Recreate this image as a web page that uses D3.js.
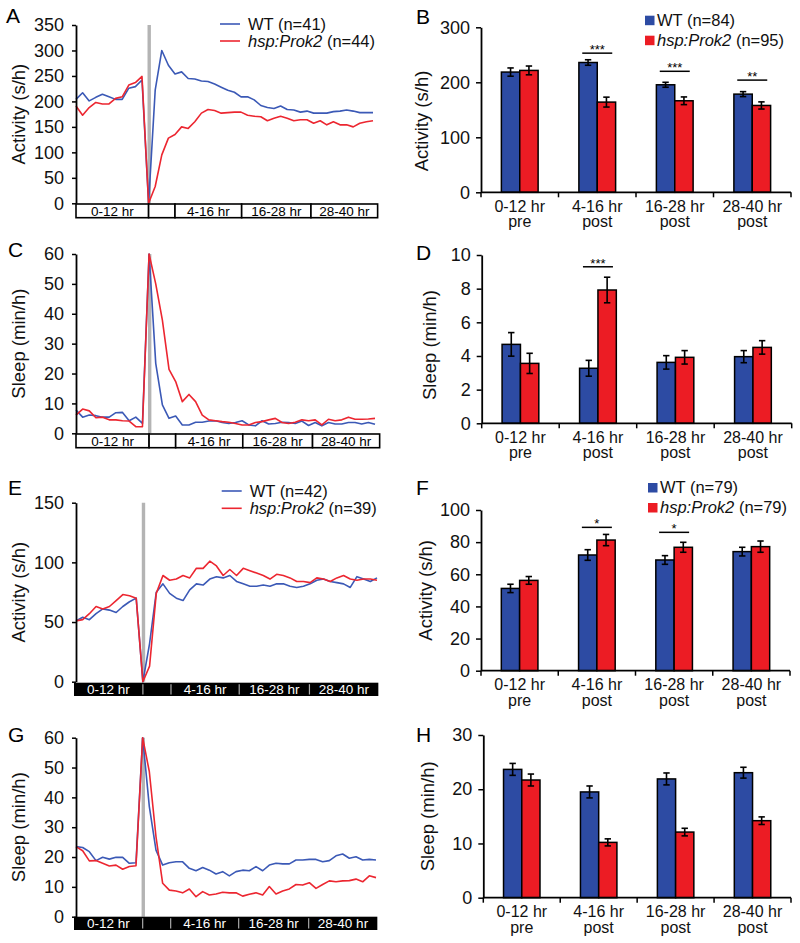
<!DOCTYPE html>
<html><head><meta charset="utf-8">
<script src="https://cdn.jsdelivr.net/npm/d3@7"></script>
<style>
body{margin:0;background:#fff}
svg{display:block;font-family:"Liberation Sans",Arial,Helvetica,sans-serif}
</style></head><body>
<svg id="c" width="800" height="943"></svg>
<script>
// ---------------- DATA ----------------
const seriesNames = ["WT", "hsp:Prok2"];
const boxLabels = ["0-12 hr", "", "4-16 hr", "16-28 hr", "28-40 hr"];
const barCategories = [["0-12 hr","pre"],["4-16 hr","post"],["16-28 hr","post"],["28-40 hr","post"]];

// Panel A: activity (s/h), time course
const A_wtPre = [204,217,201,208,214,209,204,204,226,229,242];
const A_wtHs = 0;
const A_wtPost = [222,300,271,254,258,245,244,240,239,234,228,222,218,209,209,203,192,188,186,191,184,183,179,181,177,177,177,180,181,183,181,178,178,178];
const A_mutPre = [191,173,188,198,195,195,206,209,232,237,249];
const A_mutHs = 0;
const A_mutPost = [33,95,128,135,150,147,160,177,184,182,177,178,179,179,173,171,170,162,167,171,167,162,164,164,157,162,154,160,154,154,150,157,160,162];
const A_n = [41, 44];

// Panel C: sleep (min/h), time course
const C_wtPre = [7.8,5.4,6.1,5.9,5.4,5.4,6.9,7.0,4.2,5.4,3.3];
const C_wtHs = 60;
const C_wtPost = [23.4,9.5,5.0,5.8,2.8,2.8,3.7,3.7,4.1,4.2,3.6,3.3,3.6,4.2,2.8,2.5,4.2,3.1,3.3,3.7,3.6,3.3,4.1,2.6,3.6,2.5,3.6,3.1,3.1,3.6,3.6,3.1,3.6,3.0];
const C_mutPre = [6.1,8.1,7.5,5.2,5.4,4.5,4.5,4.2,4.1,2.2,2.2];
const C_mutHs = 60;
const C_mutPost = [50,37.9,21.4,17.3,10.6,13,10.6,6.1,4.5,4.2,3.9,3.7,3.3,2.8,2.8,3.6,3.9,4.5,5.0,3.6,3.3,3.7,4.5,4.2,4.5,2.8,4.7,4.2,4.5,5.4,4.7,4.7,4.8,5.0];

// Panel E: activity (s/h), time course
const E_wtPre = [51,54,52,57,61,60,58,63,67,70];
const E_wtHs = 0;
const E_wtPost = [32,75,82,74,70,68,77,82,81,86,88,87,89,84,82,80,80,81,80,82,82,80,79,80,82,85,86,84,83,82,79,88,86,84,87];
const E_mutPre = [51,52,57,63,61,63,68,73,72,70];
const E_mutHs = 0;
const E_mutPost = [13,74,89,85,86,89,87,95,95,101,97,89,94,89,95,93,91,89,86,90,89,87,84,84,83,87,86,84,87,89,86,85,86,86,85];
const E_n = [42, 39];

// Panel G: sleep (min/h), time course
const G_wtPre = [23.5,23.2,21.8,18.8,19.9,19.3,19.9,19.9,17.9,18.1];
const G_wtHs = 60;
const G_wtPost = [36.9,22.3,17.3,18.1,18.4,18.4,16.2,15.4,16.5,15.6,14.3,15.1,13.7,15.1,15.6,15.4,16.8,15.4,17.3,17.9,17.7,17.7,19.0,19.0,19.2,19.2,18.4,18.8,20.4,21.0,19.6,20.1,19.0,19.2,19.0];
const G_mutPre = [23.5,22.1,18.7,18.8,17.9,17.0,17.3,15.9,16.8,17.1];
const G_mutHs = 60;
const G_mutPost = [48.6,26.8,11.2,8.9,8.6,8.0,9.3,6.7,8.4,7.3,7.6,8.2,8.0,8.0,6.9,7.5,8.0,7.3,10.1,7.6,8.6,9.3,10.8,10.6,11.4,9.5,10.8,12.0,11.7,12.0,12.1,12.6,11.7,13.7,13.1];

// Bar panels: mean and SEM
const B_wt = [218.6, 236, 195.5, 178.5], B_wtErr = [7.5, 5, 4.5, 4.5];
const B_mut = [221.6, 164, 166.4, 157.9], B_mutErr = [8, 9, 7, 6.5];
const B_n = [84, 95];
const B_sig = [{g:1, label:"***", at:253}, {g:2, label:"***", at:220}, {g:3, label:"**", at:204}];

const D_wt = [4.69, 3.27, 3.62, 3.96], D_wtErr = [0.7, 0.47, 0.4, 0.36];
const D_mut = [3.56, 7.92, 3.92, 4.51], D_mutErr = [0.6, 0.76, 0.4, 0.4];
const D_sig = [{g:1, label:"***", at:9.3}];

const F_wt = [51.2, 72, 68.9, 74.1], F_wtErr = [2.6, 3.3, 2.7, 2.7];
const F_mut = [56.2, 81.3, 76.8, 77.2], F_mutErr = [2.4, 3.5, 3.1, 3.5];
const F_n = [79, 79];
const F_sig = [{g:1, label:"*", at:89.2}, {g:2, label:"*", at:86.1}];

const H_wt = [23.66, 19.5, 21.9, 23.05], H_wtErr = [1.1, 1.1, 1.1, 1.0];
const H_mut = [21.7, 10.2, 12.1, 14.2], H_mutErr = [1.1, 0.65, 0.7, 0.7];

// ---------------- STYLE ----------------
const lineBlue = "#3b59b6", lineRed = "#ec2630";
const barBlue = "#2d4ba3", barRed = "#ec1c24";
const svg = d3.select("#c");

function legendText(g, x, y, i, n, size) {
  const t = g.append("text").attr("x", x).attr("y", y).attr("font-size", size).attr("fill", "#111");
  if (i === 0) t.text(`${seriesNames[0]} (n=${n})`);
  else {
    t.append("tspan").attr("font-style", "italic").text(seriesNames[1]);
    t.append("tspan").text(` (n=${n})`);
  }
}

function styleAxis(g) {
  g.selectAll("path.domain").attr("stroke", "#000").attr("stroke-width", 1.8);
  g.selectAll(".tick line").attr("stroke", "#000").attr("stroke-width", 1.5);
  g.selectAll(".tick text").attr("fill", "#111").attr("font-size", 18).attr("font-family", "Liberation Sans, Arial, sans-serif");
}

function linePanel(c) {
  const g = svg.append("g");
  const x = d3.scaleLinear().domain([-c.wtPre.length, c.wtPost.length]).range([c.x0, c.x1]);
  const y = d3.scaleLinear().domain([0, c.yMax]).range([c.yBot, c.yTop]);
  const toPts = (pre, hs, post) => [
    ...pre.map((v, i) => [i - pre.length, v]), [0, hs], ...post.map((v, i) => [i + 1, v])];
  // heat-shock gray bar
  g.append("line").attr("x1", x(0) + 0.6).attr("x2", x(0) + 0.6).attr("y1", y(c.yMax)).attr("y2", y(0))
    .attr("stroke", "#b4b4b4").attr("stroke-width", 3.4);
  const ln = d3.line().x(d => x(d[0])).y(d => y(d[1]));
  g.append("path").datum(toPts(c.wtPre, c.wtHs, c.wtPost)).attr("d", ln)
    .attr("fill", "none").attr("stroke", lineBlue).attr("stroke-width", 1.6).attr("stroke-linejoin", "round");
  g.append("path").datum(toPts(c.mutPre, c.mutHs, c.mutPost)).attr("d", ln)
    .attr("fill", "none").attr("stroke", lineRed).attr("stroke-width", 1.6).attr("stroke-linejoin", "round");
  // y axis
  const ax = g.append("g").attr("transform", `translate(${c.x0},0)`)
    .call(d3.axisLeft(y).tickValues(d3.range(0, c.yMax + 0.001, c.yStep)).tickSize(4).tickSizeOuter(0).tickPadding(8));
  styleAxis(ax);
  // bottom period boxes
  const b = c.boxes;
  if (!c.dark) {
    for (let i = 0; i < b.length - 1; i++) {
      g.append("rect").attr("x", x(b[i])).attr("y", c.boxY).attr("width", x(b[i + 1]) - x(b[i])).attr("height", c.boxH)
        .attr("fill", "#fff").attr("stroke", "#000").attr("stroke-width", 1.6);
    }
  } else {
    g.append("rect").attr("x", x(b[0])).attr("y", c.boxY).attr("width", x(b[b.length - 1]) - x(b[0])).attr("height", c.boxH)
      .attr("fill", "#000");
    for (let i = 1; i < b.length - 1; i++) {
      g.append("line").attr("x1", x(b[i])).attr("x2", x(b[i])).attr("y1", c.boxY + 1.5).attr("y2", c.boxY + c.boxH - 1.5)
        .attr("stroke", "#aaa").attr("stroke-width", 1.2);
    }
  }
  for (let i = 0; i < b.length - 1; i++) {
    g.append("text").attr("x", (x(b[i]) + x(b[i + 1])) / 2).attr("y", c.boxY + c.boxH / 2 + 4.8)
      .attr("text-anchor", "middle").attr("font-size", 13.5).attr("fill", c.dark ? "#fff" : "#000").text(boxLabels[i]);
  }
  // title
  g.append("text").attr("transform", `translate(${c.titleX},${(c.yTop + c.yBot) / 2}) rotate(-90)`)
    .attr("text-anchor", "middle").attr("font-size", 18.5).attr("fill", "#111").text(c.title);
  g.append("text").attr("x", c.lx).attr("y", c.ly).attr("font-size", 21).attr("fill", "#000").text(c.letter);
  if (c.legend) {
    const L = c.legend;
    [lineBlue, lineRed].forEach((col, i) => {
      g.append("line").attr("x1", L.x).attr("x2", L.x + 20).attr("y1", L.y + i * L.dy).attr("y2", L.y + i * L.dy)
        .attr("stroke", col).attr("stroke-width", 1.6);
      legendText(g, L.x + 28, L.y + i * L.dy + 6, i, L.n[i], 16.5);
    });
  }
}

function barPanel(c) {
  const g = svg.append("g");
  const x = d3.scaleBand().domain(d3.range(barCategories.length)).range([c.x0, c.x1]).paddingInner(0).paddingOuter(0);
  const xi = d3.scaleBand().domain([0, 1]).range([0, x.bandwidth()]).paddingInner(0).paddingOuter(1.11);
  const y = d3.scaleLinear().domain([0, c.yMax]).range([c.yBot, c.yTop]);
  const data = [];
  [[c.wt, c.wtErr, barBlue], [c.mut, c.mutErr, barRed]].forEach((s, si) => {
    s[0].forEach((v, gi) => data.push({gi, si, v, e: s[1][gi], col: s[2]}));
  });
  g.selectAll("rect.bar").data(data).enter().append("rect")
    .attr("x", d => x(d.gi) + xi(d.si)).attr("width", xi.bandwidth())
    .attr("y", d => y(d.v)).attr("height", d => y(0) - y(d.v))
    .attr("fill", d => d.col).attr("stroke", "#000").attr("stroke-width", 1.5);
  data.forEach(d => {
    const cx = x(d.gi) + xi(d.si) + xi.bandwidth() / 2;
    g.append("line").attr("x1", cx).attr("x2", cx).attr("y1", y(d.v - d.e)).attr("y2", y(d.v + d.e)).attr("stroke", "#000").attr("stroke-width", 1.6);
    [d.v - d.e, d.v + d.e].forEach(w => g.append("line").attr("x1", cx - 3.2).attr("x2", cx + 3.2).attr("y1", y(w)).attr("y2", y(w)).attr("stroke", "#000").attr("stroke-width", 1.6));
  });
  // axes
  const ay = g.append("g").attr("transform", `translate(${c.x0},0)`)
    .call(d3.axisLeft(y).tickValues(d3.range(0, c.yMax + 0.001, c.yStep)).tickSize(5).tickSizeOuter(0).tickPadding(6));
  styleAxis(ay);
  g.append("line").attr("x1", c.x0).attr("x2", c.x1).attr("y1", y(0)).attr("y2", y(0)).attr("stroke", "#000").attr("stroke-width", 1.8);
  d3.range(barCategories.length + 1).forEach(i => {
    const xx = i < barCategories.length ? x(i) : c.x1;
    g.append("line").attr("x1", xx).attr("x2", xx).attr("y1", y(0)).attr("y2", y(0) + 5).attr("stroke", "#000").attr("stroke-width", 1.5);
  });
  barCategories.forEach((lab, i) => {
    const cx = x(i) + x.bandwidth() / 2;
    const t = g.append("text").attr("text-anchor", "middle").attr("font-size", 16).attr("fill", "#111");
    t.append("tspan").attr("x", cx).attr("y", y(0) + 19.5).text(lab[0]);
    t.append("tspan").attr("x", cx).attr("y", y(0) + 35).text(lab[1]);
  });
  // significance
  (c.sig || []).forEach(s => {
    const cx = x(s.g) + x.bandwidth() / 2;
    g.append("line").attr("x1", cx - 15).attr("x2", cx + 15).attr("y1", y(s.at)).attr("y2", y(s.at)).attr("stroke", "#000").attr("stroke-width", 1.5);
    g.append("text").attr("x", cx).attr("y", y(s.at) + 1).attr("text-anchor", "middle").attr("font-size", 13).attr("fill", "#000").text(s.label);
  });
  g.append("text").attr("transform", `translate(${c.titleX},${c.titleCY ?? (c.yTop + c.yBot) / 2}) rotate(-90)`)
    .attr("text-anchor", "middle").attr("font-size", 18.5).attr("fill", "#111").text(c.title);
  g.append("text").attr("x", c.lx).attr("y", c.ly).attr("font-size", 21).attr("fill", "#000").text(c.letter);
  if (c.legend) {
    const L = c.legend;
    [barBlue, barRed].forEach((col, i) => {
      g.append("rect").attr("x", L.x).attr("y", L.y + i * 20).attr("width", 9.5).attr("height", 9.5).attr("fill", col);
      legendText(g, L.x + 12, L.y + i * 20 + 9.8, i, L.n[i], 16.5);
    });
  }
}

linePanel({letter:"A", lx:6, ly:23, x0:76, x1:373, yTop:25, yBot:203.3, yMax:350, yStep:50,
  wtPre:A_wtPre, wtHs:A_wtHs, wtPost:A_wtPost, mutPre:A_mutPre, mutHs:A_mutHs, mutPost:A_mutPost,
  boxes:[-11, 0, 4, 14.1, 24.6, 34.7], boxY:204, boxH:13.7, dark:false, title:"Activity (s/h)", titleX:24.5,
  legend:{x:220, y:24, dy:17, n:A_n}});
linePanel({letter:"C", lx:8, ly:257, x0:76, x1:375, yTop:254, yBot:433.3, yMax:60, yStep:10,
  wtPre:C_wtPre, wtHs:C_wtHs, wtPost:C_wtPost, mutPre:C_mutPre, mutHs:C_mutHs, mutPost:C_mutPost,
  boxes:[-11, 0, 4, 14.1, 24.6, 34.7], boxY:434, boxH:13.7, dark:false, title:"Sleep (min/h)", titleX:25});
linePanel({letter:"E", lx:8, ly:495, x0:76, x1:377, yTop:502.7, yBot:681.7, yMax:150, yStep:50,
  wtPre:E_wtPre, wtHs:E_wtHs, wtPost:E_wtPost, mutPre:E_mutPre, mutHs:E_mutHs, mutPost:E_mutPost,
  boxes:[-10.3, 0, 4.2, 14.4, 24.9, 35.2], boxY:682.7, boxH:13.3, dark:true, title:"Activity (s/h)", titleX:24.5,
  legend:{x:221.7, y:491, dy:17.3, n:E_n}});
linePanel({letter:"G", lx:8, ly:742, x0:76, x1:376, yTop:737.7, yBot:916.7, yMax:60, yStep:10,
  wtPre:G_wtPre, wtHs:G_wtHs, wtPost:G_wtPost, mutPre:G_mutPre, mutHs:G_mutHs, mutPost:G_mutPost,
  boxes:[-10.3, 0, 4.2, 14.4, 24.9, 35.2], boxY:916.7, boxH:13.3, dark:true, title:"Sleep (min/h)", titleX:25});

barPanel({letter:"B", lx:416, ly:24, x0:481, x1:791, yTop:27.3, yBot:192.3, yMax:300, yStep:100,
  wt:B_wt, wtErr:B_wtErr, mut:B_mut, mutErr:B_mutErr, sig:B_sig, title:"Activity (s/h)", titleX:428, titleCY:121,
  legend:{x:645, y:15.7, n:B_n}});
barPanel({letter:"D", lx:416, ly:260, x0:481.7, x1:791.7, yTop:255, yBot:423.3, yMax:10, yStep:2,
  wt:D_wt, wtErr:D_wtErr, mut:D_mut, mutErr:D_mutErr, sig:D_sig, title:"Sleep (min/h)", titleX:436, titleCY:345});
barPanel({letter:"F", lx:416, ly:495, x0:481, x1:790, yTop:510, yBot:670.7, yMax:100, yStep:20,
  wt:F_wt, wtErr:F_wtErr, mut:F_mut, mutErr:F_mutErr, sig:F_sig, title:"Activity (s/h)", titleX:432,
  legend:{x:648, y:483, n:F_n}});
barPanel({letter:"H", lx:416, ly:742, x0:483.3, x1:791, yTop:735, yBot:897.7, yMax:30, yStep:10,
  wt:H_wt, wtErr:H_wtErr, mut:H_mut, mutErr:H_mutErr, title:"Sleep (min/h)", titleX:434});
</script>
</body></html>
